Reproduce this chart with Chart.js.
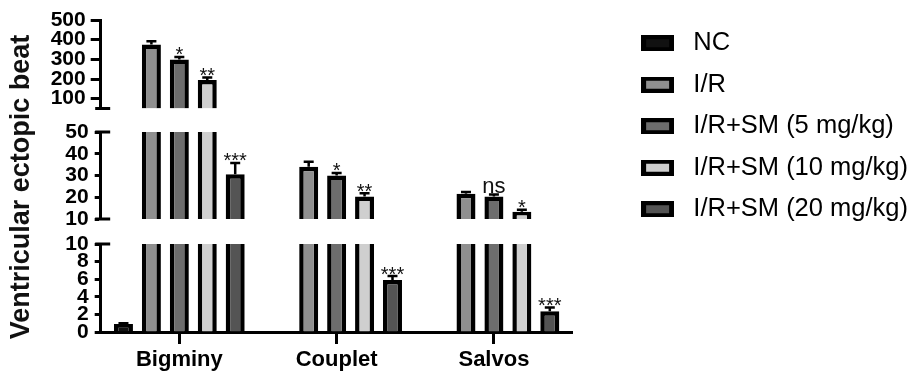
<!DOCTYPE html>
<html><head><meta charset="utf-8">
<script src="https://cdn.jsdelivr.net/npm/chart.js@4"></script>
<style>html,body{margin:0;padding:0;background:#fff}</style>
</head><body>
<canvas id="c" width="912" height="373" style="display:block;width:912px;height:373px"></canvas>
<script>
// ---------- data ----------
const categories = ['Bigminy', 'Couplet', 'Salvos'];
const seriesNames = ['NC', 'I/R', 'I/R+SM (5 mg/kg)', 'I/R+SM (10 mg/kg)', 'I/R+SM (20 mg/kg)'];
const ncValues   = [0.9, 0, 0];
const irValues   = [375, 34, 21.6];
const sm5Values  = [299, 30, 20.4];
const sm10Values = [195, 20.4, 13.3];
const sm20Values = [30.6, 5.9, 2.35];
const ncErrors   = [0.1, 0, 0];
const irErrors   = [17, 2.3, 0.8];
const sm5Errors  = [13, 1.2, 0.9];
const sm10Errors = [12, 1.4, 0.9];
const sm20Errors = [5.2, 0.45, 0.42];
const ncSig   = ['', '', ''];
const irSig   = ['', '', ''];
const sm5Sig  = ['*', '*', 'ns'];
const sm10Sig = ['**', '**', '*'];
const sm20Sig = ['***', '***', '***'];
const bottomTicks = [0, 2, 4, 6, 8, 10];
const middleTicks = [10, 20, 30, 40, 50];
const topTicks    = [100, 200, 300, 400, 500];
const yTitle = 'Ventricular ectopic beat';

// ---------- config ----------
const values = [ncValues, irValues, sm5Values, sm10Values, sm20Values];
const errors = [ncErrors, irErrors, sm5Errors, sm10Errors, sm20Errors];
const sigs   = [ncSig, irSig, sm5Sig, sm10Sig, sm20Sig];
const colors = ['#111111', '#8f8f8f', '#6d6d6d', '#cfcfcf', '#545454'];
const FONT = "'Liberation Sans', Arial, Helvetica, sans-serif";
const BW = 4.5;

const segments = [
  {id: 'yBot', min: 0,  max: 10,  ticks: bottomTicks},
  {id: 'yMid', min: 10, max: 50,  ticks: middleTicks},
  {id: 'yTop', min: 50, max: 500, ticks: topTicks}
];
const segLayout = {
  yBot: {px: 88, weight: 1, tickLen: 6, pad: 6},
  yMid: {px: 87, weight: 3, tickLen: 6, pad: 6},
  yTop: {px: 88.5, weight: 5, tickLen: 10, pad: 5}
};
const spacers = {pad0: {px: 1.4, weight: 6}, gap1: {px: 23.5, weight: 4}, gap2: {px: 25, weight: 2}};

function segFor(v) {
  for (const s of segments) if (v <= s.max) return s;
  return segments[segments.length - 1];
}

const datasets = [];
values.forEach((vals, s) => {
  segments.forEach(seg => {
    datasets.push({
      label: seriesNames[s],
      yAxisID: seg.id,
      stack: 's' + s,
      data: vals.map(v => v > seg.min ? [seg.min, Math.min(v, seg.max)] : null),
      backgroundColor: colors[s],
      borderColor: '#000',
      borderSkipped: false,
      borderWidth: ctx => {
        if (ctx.dataIndex === undefined) return BW;
        const v = vals[ctx.dataIndex];
        return {left: BW, right: BW, bottom: 0, top: v <= seg.max ? BW : 0};
      },
      categoryPercentage: 0.888,
      barPercentage: 0.68
    });
  });
});

const scales = {
  x: {
    type: 'category', offset: true, z: 1,
    afterFit: sc => { sc.height = 41; },
    grid: {display: true, drawOnChartArea: false, drawTicks: true, tickLength: 12, tickWidth: 3, tickColor: '#000', offset: false},
    border: {display: true, color: '#000', width: 3},
    ticks: {color: '#000', font: {family: FONT, size: 22, weight: 'bold'}, padding: 3, maxRotation: 0}
  },
  yRightSpace: {
    type: 'linear', position: 'right', display: true,
    grid: {display: false}, border: {display: false}, ticks: {display: false},
    afterFit: sc => { sc.width = 46; }
  }
};
segments.forEach(seg => {
  const L = segLayout[seg.id];
  scales[seg.id] = {
    type: 'linear', position: 'left', stack: 'ys', stackWeight: L.px, weight: L.weight,
    min: seg.min, max: seg.max, stacked: false, z: 1,
    afterBuildTicks: sc => { sc.ticks = seg.ticks.map(v => ({value: v})); },
    grid: {display: true, drawOnChartArea: false, drawTicks: true, tickLength: L.tickLen, tickWidth: 3, tickColor: '#000'},
    border: {display: true, color: '#000', width: 3},
    ticks: {color: '#000', font: {family: FONT, size: 21, weight: 'bold'}, padding: L.pad, autoSkip: false}
  };
});
Object.keys(spacers).forEach(id => {
  const S = spacers[id];
  scales[id] = {
    type: 'linear', position: 'left', stack: 'ys', stackWeight: S.px, weight: S.weight, display: true,
    grid: {display: false}, border: {display: false}, ticks: {display: false}
  };
});

// legend box images
const boxImages = colors.map((c, i) => {
  const cv = document.createElement('canvas');
  cv.width = 33; cv.height = 16;
  const g = cv.getContext('2d');
  g.fillStyle = '#000'; g.fillRect(0, 0, 33, 16);
  g.fillStyle = c; g.fillRect(5, 4, 23, 8);
  return cv;
});

const decor = {
  id: 'decor',
  afterDatasetsDraw(chart) {
    const ctx = chart.ctx;
    ctx.save();
    ctx.strokeStyle = '#000';
    ctx.fillStyle = '#111';
    ctx.lineWidth = 2.5;
    values.forEach((vals, s) => {
      vals.forEach((v, j) => {
        if (!(v > 0)) return;
        const e = errors[s][j];
        const sv = segFor(v), top = v + e, se = segFor(top);
        const meta = chart.getDatasetMeta(s * 3 + segments.indexOf(sv));
        const el = meta.data[j];
        if (!el) return;
        const x = el.x;
        const y0 = chart.scales[sv.id].getPixelForValue(v);
        const y1 = chart.scales[se.id].getPixelForValue(top);
        ctx.beginPath();
        ctx.moveTo(x, y0); ctx.lineTo(x, y1);
        ctx.moveTo(x - 5, y1); ctx.lineTo(x + 5, y1);
        ctx.stroke();
        const lab = sigs[s][j];
        if (lab) {
          ctx.textAlign = 'center';
          ctx.textBaseline = 'alphabetic';
          if (lab === 'ns') { ctx.font = '22px ' + FONT; ctx.fillText(lab, x, y1 - 1.5); }
          else { ctx.font = '20px ' + FONT; ctx.fillText(lab, x, y1 + 4.5); }
        }
      });
    });
    ctx.restore();
  },
  afterDraw(chart) {
    const ctx = chart.ctx;
    const ax = chart.chartArea.left + 0.5;
    ctx.save();
    ctx.strokeStyle = '#000';
    ctx.lineWidth = 3;
    const caps = [
      chart.scales.yTop.bottom,
      chart.scales.yMid.top, chart.scales.yMid.bottom,
      chart.scales.yBot.top
    ];
    caps.forEach(y => {
      ctx.beginPath(); ctx.moveTo(ax - 6, y); ctx.lineTo(ax + 9, y); ctx.stroke();
    });
    ctx.translate(22, 187);
    ctx.rotate(-Math.PI / 2);
    ctx.fillStyle = '#111';
    ctx.font = 'bold 27px ' + FONT;
    ctx.textAlign = 'center';
    ctx.textBaseline = 'middle';
    ctx.fillText(yTitle, 0, 0);
    ctx.restore();
  }
};

new Chart(document.getElementById('c'), {
  type: 'bar',
  data: {labels: categories, datasets},
  options: {
    responsive: false, animation: false, devicePixelRatio: 1,
    layout: {padding: {left: 46.2, right: -6, top: 14.5, bottom: 0}},
    scales,
    plugins: {
      tooltip: {enabled: false},
      legend: {
        position: 'right', align: 'start', maxWidth: 330,
        labels: {
          usePointStyle: true, pointStyleWidth: 46, padding: 16, color: '#111',
          font: {family: FONT, size: 25.5},
          generateLabels: () => seriesNames.map((n, i) => ({
            text: n, pointStyle: boxImages[i], fillStyle: colors[i], strokeStyle: '#000',
            lineWidth: 0, hidden: false, datasetIndex: i * 3
          }))
        }
      }
    }
  },
  plugins: [decor]
});
</script>
</body></html>
